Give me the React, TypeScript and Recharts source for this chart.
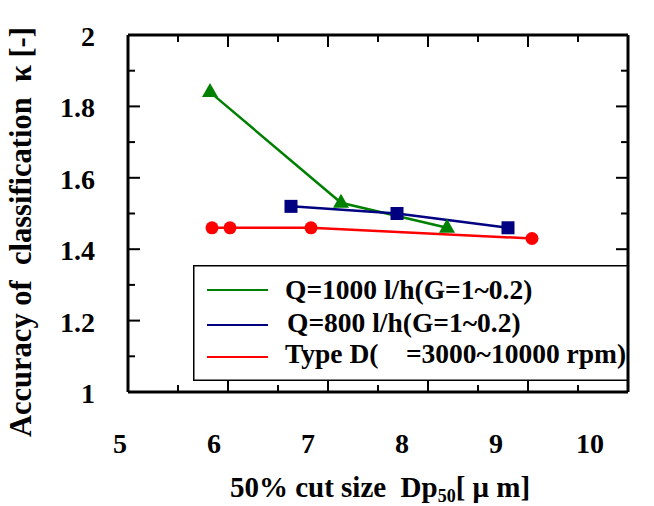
import { LineChart, Line, XAxis, YAxis, Legend } from "recharts";

// cut size Dp50 [um] and accuracy kappa [-]
const q1000X = [5.82, 7.13, 8.19];
const q1000Y = [1.84, 1.53, 1.46];
const q800X = [6.63, 7.69, 8.8];
const q800Y = [1.52, 1.5, 1.46];
const typeDX = [5.84, 6.02, 6.83, 9.04];
const typeDY = [1.46, 1.46, 1.46, 1.43];

const xTicks = [5, 6, 7, 8, 9, 10];
const xMinorTicks = [5.5, 6.5, 7.5, 8.5, 9.5];
const yTicks = [1, 1.2, 1.4, 1.6, 1.8, 2];
const yMinorTicks = [1.1, 1.3, 1.5, 1.7, 1.9];

const seriesNames = ["Q=1000 l/h(G=1~0.2)", "Q=800 l/h(G=1~0.2)", "Type D(    =3000~10000 rpm)"];
const GREEN = "#008000";
const NAVY = "#000080";
const RED = "#ff0000";
const FONT = "'Liberation Serif', 'Times New Roman', serif";

const zip = (xs: number[], ys: number[]) => xs.map((x, i) => ({ x, y: ys[i] }));
const q1000 = zip(q1000X, q1000Y);
const q800 = zip(q800X, q800Y);
const typeD = zip(typeDX, typeDY);

const allX = [...xTicks, ...xMinorTicks].sort((a, b) => a - b);
const allY = [...yTicks, ...yMinorTicks].sort((a, b) => a - b);
const isMajor = (list: number[], v: number) => list.some((t) => Math.abs(t - v) < 1e-6);

const MAJOR = 12;
const MINOR = 7;

const BoldText = ({ x, y, anchor = "start", size = 28, children }: any) => (
  <text
    x={x}
    y={y}
    textAnchor={anchor}
    fontSize={size}
    fontWeight="bold"
    fontFamily={FONT}
    fill="#000"
    style={{ whiteSpace: "pre" }}
  >
    {children}
  </text>
);

const BottomTick = (p: any) => {
  const v = p.payload.value;
  const major = isMajor(xTicks, v);
  return (
    <g>
      <line x1={p.x} x2={p.x} y1={p.y} y2={p.y - (major ? MAJOR : MINOR)} stroke="#000" strokeWidth={2} />
      {major && <BoldText x={p.x - 8 - (v - 5) * 6} y={p.y + 61} anchor="middle">{v}</BoldText>}
    </g>
  );
};

const TopTick = (p: any) => {
  const major = isMajor(xTicks, p.payload.value);
  return <line x1={p.x} x2={p.x} y1={p.y} y2={p.y + (major ? MAJOR : MINOR)} stroke="#000" strokeWidth={2} />;
};

const LeftTick = (p: any) => {
  const v = p.payload.value;
  const major = isMajor(yTicks, v);
  return (
    <g>
      <line x1={p.x} x2={p.x + (major ? MAJOR : MINOR)} y1={p.y} y2={p.y} stroke="#000" strokeWidth={2} />
      {major && <BoldText x={p.x - 33} y={p.y + 11} anchor="end">{v}</BoldText>}
    </g>
  );
};

const RightTick = (p: any) => {
  const major = isMajor(yTicks, p.payload.value);
  return <line x1={p.x} x2={p.x - (major ? MAJOR : MINOR)} y1={p.y} y2={p.y} stroke="#000" strokeWidth={2} />;
};

const Triangle = (p: any) => (
  <path
    key={`t${p.index}`}
    d={`M${p.cx},${p.cy - 9} L${p.cx + 8},${p.cy + 5} L${p.cx - 8},${p.cy + 5} Z`}
    fill={GREEN}
  />
);
const Square = (p: any) => (
  <rect key={`s${p.index}`} x={p.cx - 6.5} y={p.cy - 6.5} width={13} height={13} fill={NAVY} />
);
const Dot = (p: any) => <circle key={`c${p.index}`} cx={p.cx} cy={p.cy} r={6.5} fill={RED} />;

const XTitle = (p: any) => {
  const vb = p.viewBox;
  return (
    <text
      x={vb.x + vb.width / 2 + 2}
      y={vb.y + 105}
      textAnchor="middle"
      fontSize={29}
      fontWeight="bold"
      fontFamily={FONT}
      fill="#000"
      style={{ whiteSpace: "pre" }}
    >
      {"50% cut size  Dp"}
      <tspan fontSize={18} dy={5}>50</tspan>
      <tspan dy={-5}>[ μ m]</tspan>
    </text>
  );
};

const YTitle = () => (
  <text
    transform="translate(31 437) rotate(-90)"
    textAnchor="start"
    fontSize={30.5}
    fontWeight="bold"
    fontFamily={FONT}
    fill="#000"
    style={{ whiteSpace: "pre" }}
  >
    {"Accuracy of  classification  κ [-]"}
  </text>
);

const LegendBox = () => {
  const colors = [GREEN, NAVY, RED];
  const lineY = [25, 60, 92];
  const textY = [34, 67, 98];
  const textX = [92, 94, 92];
  return (
    <svg width={435} height={116} style={{ display: "block" }}>
      <rect x={0.75} y={0.75} width={433.5} height={114.5} fill="#fff" stroke="#000" strokeWidth={1.5} />
      {seriesNames.map((name, i) => (
        <g key={name}>
          <line x1={14} x2={75} y1={lineY[i]} y2={lineY[i]} stroke={colors[i]} strokeWidth={2} />
          <BoldText x={textX[i]} y={textY[i]} size={27.5}>{name}</BoldText>
        </g>
      ))}
    </svg>
  );
};

const axisLine = { stroke: "#000", strokeWidth: 3 };

export default function App() {
  return (
    <div style={{ position: "absolute", left: 0, top: 0, background: "#fff" }}>
      <LineChart width={654} height={506} margin={{ top: 0, right: 0, bottom: 0, left: 0 }}>
        <XAxis
          type="number"
          dataKey="x"
          domain={[5, 10]}
          ticks={allX}
          allowDataOverflow
          interval={0}
          height={114}
          tickSize={0}
          tickMargin={0}
          tickLine={false}
          tick={<BottomTick />}
          axisLine={axisLine}
          label={<XTitle />}
        />
        <XAxis
          xAxisId="top"
          orientation="top"
          type="number"
          dataKey="x"
          domain={[5, 10]}
          ticks={allX}
          allowDataOverflow
          interval={0}
          height={35}
          tickSize={0}
          tickMargin={0}
          tickLine={false}
          tick={<TopTick />}
          axisLine={axisLine}
        />
        <YAxis
          type="number"
          domain={[1, 2]}
          ticks={allY}
          allowDataOverflow
          interval={0}
          width={128}
          tickSize={0}
          tickMargin={0}
          tickLine={false}
          tick={<LeftTick />}
          axisLine={axisLine}
          label={<YTitle />}
        />
        <YAxis
          yAxisId="right"
          orientation="right"
          type="number"
          domain={[1, 2]}
          ticks={allY}
          allowDataOverflow
          interval={0}
          width={26}
          tickSize={0}
          tickMargin={0}
          tickLine={false}
          tick={<RightTick />}
          axisLine={axisLine}
        />
        <Legend
          layout="vertical"
          align="center"
          verticalAlign="middle"
          wrapperStyle={{ left: 193, top: 265, width: 435, height: 116 }}
          content={<LegendBox />}
        />
        <Line data={q1000} dataKey="y" name={seriesNames[0]} stroke={GREEN} strokeWidth={2.5} dot={<Triangle />} activeDot={false} isAnimationActive={false} />
        <Line data={q800} dataKey="y" name={seriesNames[1]} stroke={NAVY} strokeWidth={2.5} dot={<Square />} activeDot={false} isAnimationActive={false} />
        <Line data={typeD} dataKey="y" name={seriesNames[2]} stroke={RED} strokeWidth={2.5} dot={<Dot />} activeDot={false} isAnimationActive={false} />
      </LineChart>
    </div>
  );
}
